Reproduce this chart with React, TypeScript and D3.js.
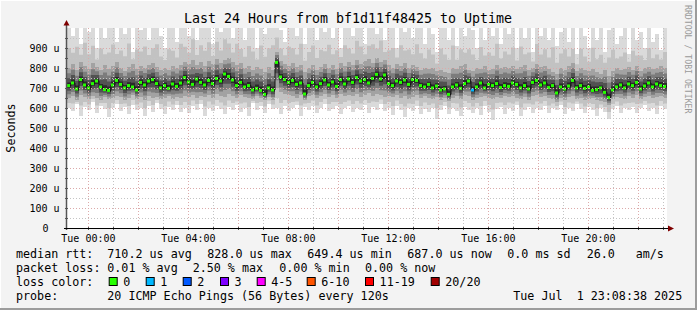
import React from 'react';
import * as d3 from 'd3';

// ---------- data ----------
const endTime = new Date(2025, 6, 1, 23, 8, 38);
const startTime = new Date(endTime.getTime() - 24 * 3600 * 1000);

// median rtt (µs) per time slot
const median = [
  712, 725, 695, 742, 715, 700, 722, 735, 705, 692,
  688, 715, 738, 718, 700, 712, 705, 690, 728, 715,
  735, 742, 722, 700, 712, 698, 720, 708, 725, 752,
  730, 718, 745, 728, 715, 738, 722, 748, 735, 770,
  758, 740, 712, 728, 705, 712, 690, 698, 688, 668,
  700, 690, 828, 755, 742, 728, 738, 718, 725, 670,
  712, 728, 705, 722, 740, 715, 730, 708, 742, 720,
  745, 728, 752, 735, 742, 725, 748, 768, 745, 765,
  722, 712, 735, 728, 740, 718, 742, 738, 712, 705,
  718, 700, 710, 690, 695, 668, 705, 715, 698, 722,
  735, 690, 705, 725, 700, 718, 712, 722, 702, 712,
  708, 725, 718, 700, 712, 695, 728, 738, 715, 725,
  702, 712, 675, 705, 695, 710, 738, 700, 712, 698,
  705, 688, 692, 700, 678, 652, 690, 705, 715, 700,
  720, 712, 728, 695, 710, 725, 705, 720, 712, 708,
];

// lost pings (of 20) per time slot
const lostPings = [
  0, 0, 0, 0, 0, 0, 0, 0, 0, 0,
  0, 0, 0, 0, 0, 0, 0, 0, 0, 0,
  0, 0, 0, 0, 0, 0, 0, 0, 0, 0,
  0, 0, 0, 0, 0, 0, 0, 0, 0, 0,
  0, 0, 0, 0, 0, 0, 0, 0, 0, 0,
  0, 0, 0, 0, 0, 0, 0, 0, 0, 0,
  0, 0, 0, 0, 0, 0, 0, 0, 0, 0,
  0, 0, 0, 0, 0, 0, 0, 0, 0, 0,
  0, 0, 0, 0, 0, 0, 0, 0, 0, 0,
  0, 0, 0, 0, 0, 0, 0, 0, 0, 0,
  0, 1, 0, 0, 0, 0, 0, 0, 0, 0,
  0, 0, 0, 0, 0, 0, 0, 0, 0, 0,
  0, 0, 0, 0, 0, 0, 0, 0, 0, 0,
  0, 0, 0, 0, 0, 0, 0, 0, 0, 0,
  0, 0, 0, 0, 0, 0, 0, 0, 0, 0,
];

// smoke: min ping, lower quartile, upper quartile, max ping (µs)
const pingMin = [
  600, 585, 620, 560, 605, 590, 630, 575, 610, 595,
  555, 600, 620, 585, 605, 570, 615, 590, 600, 560,
  610, 580, 625, 595, 570, 605, 590, 615, 580, 600,
  575, 610, 590, 620, 560, 600, 585, 610, 595, 570,
  605, 590, 615, 580, 600, 560, 625, 590, 610, 575,
  620, 595, 600, 570, 610, 585, 600, 615, 560, 605,
  590, 610, 575, 600, 620, 585, 595, 610, 570, 600,
  610, 580, 600, 590, 615, 575, 605, 590, 620, 585,
  600, 565, 610, 590, 555, 600, 585, 610, 570, 595,
  580, 600, 545, 590, 610, 570, 600, 585, 560, 605,
  590, 575, 600, 565, 610, 580, 540, 595, 605, 570,
  600, 585, 615, 560, 590, 605, 575, 600, 590, 610,
  575, 600, 590, 615, 570, 600, 585, 620, 595, 575,
  605, 590, 560, 600, 580, 545, 595, 610, 575, 600,
  590, 605, 575, 600, 615, 585, 600, 570, 610, 595,
];
const pingQ1 = [
  650, 660, 640, 665, 655, 645, 660, 650, 640, 655,
  645, 650, 660, 655, 640, 650, 665, 645, 655, 640,
  660, 650, 655, 645, 650, 660, 645, 655, 650, 660,
  655, 665, 650, 660, 655, 665, 650, 670, 660, 655,
  670, 660, 650, 665, 655, 650, 645, 660, 650, 640,
  655, 640, 700, 680, 670, 665, 660, 650, 665, 640,
  660, 665, 650, 660, 670, 655, 665, 650, 670, 660,
  665, 660, 670, 655, 665, 675, 660, 670, 665, 655,
  660, 655, 665, 650, 660, 645, 655, 665, 650, 660,
  650, 645, 655, 640, 650, 635, 650, 660, 645, 665,
  660, 640, 650, 655, 660, 650, 645, 655, 650, 660,
  655, 660, 650, 645, 655, 640, 660, 665, 655, 660,
  650, 645, 630, 650, 640, 655, 660, 645, 650, 640,
  645, 650, 640, 635, 630, 615, 645, 655, 650, 645,
  660, 650, 665, 645, 655, 660, 650, 655, 660, 650,
];
const pingQ3 = [
  800, 820, 790, 830, 810, 795, 825, 805, 790, 815,
  795, 810, 830, 800, 785, 805, 820, 795, 810, 800,
  815, 825, 805, 790, 800, 790, 810, 800, 815, 830,
  820, 840, 815, 830, 810, 835, 820, 845, 825, 840,
  850, 830, 815, 825, 800, 810, 790, 805, 795, 780,
  805, 790, 880, 835, 820, 810, 825, 805, 815, 780,
  800, 815, 790, 805, 820, 800, 815, 795, 825, 810,
  830, 815, 840, 820, 835, 845, 825, 850, 830, 840,
  815, 800, 820, 810, 825, 800, 815, 805, 790, 800,
  795, 800, 785, 790, 780, 775, 800, 795, 810, 820,
  790, 785, 800, 795, 810, 790, 795, 815, 800, 805,
  800, 810, 795, 805, 815, 790, 800, 820, 805, 810,
  795, 780, 770, 800, 790, 810, 825, 785, 800, 790,
  785, 795, 780, 770, 790, 760, 785, 800, 790, 795,
  805, 790, 810, 785, 800, 805, 795, 800, 810, 800,
];
const pingMax = [
  1050, 960, 1080, 920, 1100, 980, 1040, 900, 1060, 950,
  1000, 1080, 930, 1020, 970, 1100, 880, 1040, 990, 1070,
  940, 1010, 1090, 960, 900, 1050, 1000, 930, 1080, 1020,
  960, 1100, 940, 1040, 1000, 1070, 920, 1060, 980, 1100,
  1030, 950, 1080, 1000, 940, 1060, 1020, 900, 1090, 970,
  1040, 1100, 1060, 990, 930, 1050, 1010, 960, 1080, 920,
  1000, 1060, 940, 1020, 980, 1090, 950, 1030, 900, 1070,
  1000, 960, 1080, 1040, 920, 1010, 1060, 970, 1100, 940,
  1000, 1050, 900, 1070, 980, 1030, 950, 1090, 1000, 920,
  1040, 970, 880, 1060, 1000, 940, 1080, 910, 1020, 960,
  1050, 990, 900, 1070, 940, 1010, 960, 1080, 920, 1000,
  970, 1040, 900, 1060, 950, 1010, 880, 1070, 960, 1020,
  940, 1090, 910, 980, 1050, 930, 1000, 870, 1040, 960,
  900, 1060, 940, 1010, 880, 990, 1050, 920, 960, 1000,
  870, 1030, 940, 980, 900, 1040, 930, 970, 890, 1000,
];

const yTickValues = [0, 100, 200, 300, 400, 500, 600, 700, 800, 900];

const lossLabels = ['0', '1', '2', '3', '4-5', '6-10', '11-19', '20/20'];
const lossMaxPings = [0, 1, 2, 3, 5, 10, 19, 20];
const lossColors = ['#26ff00', '#00b8ff', '#0059ff', '#7e00ff', '#ff00ff', '#ff5500', '#ff0000', '#a10000'];

const legendRtt = ['710.2 us avg', '828.0 us max', '649.4 us min', '687.0 us now', '0.0 ms sd', '26.0', 'am/s'];
const legendLoss = ['0.01 % avg', '2.50 % max', '0.00 % min', '0.00 % now'];
const probeText = '20 ICMP Echo Pings (56 Bytes) every 120s';
const stampText = 'Tue Jul  1 23:08:38 2025';
const titleText = 'Last 24 Hours from bf1d11f48425 to Uptime';

// ---------- layout ----------
const W = 697;
const H = 310;
const X0 = 67, X1 = 667, Y0 = 228, Y1 = 28;
const MONO = '"DejaVu Sans Mono", monospace';
const rttX = [107.3, 207.3, 307.3, 407.3, 507.3, 586.7, 635.7];
const lossX = [107.3, 192.7, 279.3, 365];
const swatchX = [108.7, 145.7, 182.7, 220, 256.7, 306.7, 365, 430.7];

function lossColor(n: number) {
  for (let k = 0; k < lossMaxPings.length; k++) if (n <= lossMaxPings[k]) return lossColors[k];
  return lossColors[lossColors.length - 1];
}

export default function App() {
  const x = d3.scaleTime().domain([startTime, endTime]).range([X0, X1]);
  const y = d3.scaleLinear().domain([0, 1000]).range([Y0, Y1]);
  const N = median.length;
  const stepMs = (endTime.getTime() - startTime.getTime()) / N;
  const colX = (i: number) => x(new Date(startTime.getTime() + i * stepMs));
  const idx = d3.range(N + 1);
  const at = (arr: number[], i: number) => arr[Math.min(i, N - 1)];
  const lerp = (a: number, b: number, t: number) => a + (b - a) * t;

  const layers: { lo: (i: number) => number; hi: (i: number) => number; color: string }[] = [
    { lo: (i) => at(pingMin, i), hi: (i) => at(pingMax, i), color: '#dadada' },
    { lo: (i) => lerp(at(pingMin, i), at(pingQ1, i), 0.5), hi: (i) => lerp(at(pingMax, i), at(pingQ3, i), 0.6), color: '#c2c2c2' },
    { lo: (i) => at(pingQ1, i), hi: (i) => at(pingQ3, i), color: '#a2a2a2' },
    { lo: (i) => lerp(at(pingQ1, i), at(median, i), 0.3), hi: (i) => lerp(at(pingQ3, i), at(median, i), 0.3), color: '#7c7c7c' },
    { lo: (i) => lerp(at(pingQ1, i), at(median, i), 0.58), hi: (i) => lerp(at(pingQ3, i), at(median, i), 0.58), color: '#525252' },
    { lo: (i) => lerp(at(pingQ1, i), at(median, i), 0.82), hi: (i) => lerp(at(pingQ3, i), at(median, i), 0.82), color: '#2a2a2a' },
  ];

  const areaFor = (lo: (i: number) => number, hi: (i: number) => number) =>
    d3.area<number>()
      .x((i) => colX(i))
      .y0((i) => y(lo(i)))
      .y1((i) => y(hi(i)))
      .curve(d3.curveStepAfter)(idx) || '';

  const medLine = d3.line<number>()
    .x((i) => colX(i))
    .y((i) => y(at(median, i)))
    .curve(d3.curveStepAfter)(idx) || '';

  const minorX = d3.timeHour.every(1)!.range(startTime, endTime);
  const majorX = d3.timeHour.every(2)!.range(startTime, endTime);
  const labelX = d3.timeHour.every(4)!.range(startTime, endTime);
  const fmt = d3.timeFormat('%a %H:%M');
  const minorY = d3.range(50, 1000, 100);

  const gridGrey = '#c4c4c4';
  const gridRed = '#dcaaaa';

  return (
    <svg width={W} height={H} style={{ position: 'absolute', left: 0, top: 0 }} fontFamily={MONO}>
      <defs>
        <clipPath id="plotclip">
          <rect x={X0} y={Y1} width={X1 - X0} height={Y0 - Y1} />
        </clipPath>
      </defs>
      <rect x={0} y={0} width={W} height={H} fill="#f3f3f3" />
      <rect x={0} y={0} width={W} height={1} fill="#ffffff" />
      <rect x={0} y={0} width={1} height={H} fill="#ffffff" />
      <rect x={W - 2} y={0} width={2} height={H} fill="#9c9c9c" />
      <rect x={0} y={H - 2} width={W} height={2} fill="#9c9c9c" />

      <rect x={X0} y={Y1} width={X1 - X0} height={Y0 - Y1} fill="#ffffff" />

      <g clipPath="url(#plotclip)">
        {layers.map((l, k) => (
          <path key={k} d={areaFor(l.lo, l.hi)} fill={l.color} />
        ))}
        <path d={medLine} fill="none" stroke="#141414" strokeWidth={1} />
        {median.map((m, i) => (
          <rect key={i} x={colX(i)} y={y(m) - 1.5} width={3} height={3} fill={lossColor(lostPings[i])} />
        ))}
      </g>

      {/* grid */}
      <g fill="none" strokeWidth={1} strokeDasharray="1,2">
        {minorY.map((v) => (
          <line key={'my' + v} x1={X0} x2={X1} y1={Math.round(y(v)) + 0.5} y2={Math.round(y(v)) + 0.5} stroke={gridGrey} />
        ))}
        {yTickValues.filter((v) => v > 0).map((v) => (
          <line key={'My' + v} x1={X0} x2={X1} y1={Math.round(y(v)) + 0.5} y2={Math.round(y(v)) + 0.5} stroke={gridRed} />
        ))}
        {minorX.filter((t) => t.getHours() % 2 !== 0).map((t) => (
          <line key={'mx' + t.getTime()} x1={Math.round(x(t)) + 0.5} x2={Math.round(x(t)) + 0.5} y1={Y1} y2={Y0} stroke={gridGrey} />
        ))}
        {majorX.map((t) => (
          <line key={'Mx' + t.getTime()} x1={Math.round(x(t)) + 0.5} x2={Math.round(x(t)) + 0.5} y1={Y1} y2={Y0} stroke={gridRed} />
        ))}
      </g>

      {/* ticks on axes */}
      <g stroke="#555" strokeWidth={1}>
        {d3.range(50, 1000, 50).map((v) => (
          <line key={'ty' + v} x1={X0 - 2} x2={X0 + 1} y1={Math.round(y(v)) + 0.5} y2={Math.round(y(v)) + 0.5} />
        ))}
        {minorX.map((t) => (
          <line key={'tx' + t.getTime()} x1={Math.round(x(t)) + 0.5} x2={Math.round(x(t)) + 0.5} y1={Y0 - 1} y2={Y0 + 2} />
        ))}
      </g>

      {/* axes */}
      <line x1={X0 - 0.5} x2={X0 - 0.5} y1={Y0 + 2} y2={Y1 - 3} stroke="#555" strokeWidth={1.5} />
      <line x1={X0 - 3} x2={X1 + 1} y1={Y0 + 0.5} y2={Y0 + 0.5} stroke="#000" strokeWidth={1} />
      <path d={`M${X0 - 3.5},${Y1 - 2.5} L${X0 + 2.5},${Y1 - 2.5} L${X0 - 0.5},${Y1 - 8} Z`} fill="#7f0000" />
      <path d={`M${X1 + 1},${Y0 - 2.5} L${X1 + 1},${Y0 + 3.5} L${X1 + 7},${Y0 + 0.5} Z`} fill="#7f0000" />

      {/* y labels */}
      <g fontSize={10} fill="#000">
        {yTickValues.map((v) =>
          v === 0 ? (
            <text key={v} x={48.5} y={y(v) + 3.5} textAnchor="end">0</text>
          ) : (
            <text key={v} x={59.5} y={y(v) + 3.5} textAnchor="end">{`${v} u`}</text>
          )
        )}
      </g>
      {/* x labels */}
      <g fontSize={10} fill="#000">
        {labelX.filter((t) => t.getHours() % 4 === 0).map((t) => (
          <text key={t.getTime()} x={x(t)} y={241.5} textAnchor="middle">{fmt(t)}</text>
        ))}
      </g>

      {/* title */}
      <text x={348} y={23} fontSize={13.3} textAnchor="middle" fill="#000">{titleText}</text>
      <text transform="translate(15,128) rotate(-90)" fontSize={11.7} textAnchor="middle" fill="#000">Seconds</text>
      <text transform="translate(685,5) rotate(90)" fontSize={8.2} fill="#9a9a9a">RRDTOOL / TOBI OETIKER</text>

      {/* legend */}
      <g fontSize={11.7} fill="#000" style={{ whiteSpace: 'pre' }}>
        <text x={16} y={258}>median rtt:</text>
        {legendRtt.map((s, i) => (
          <text key={'r' + i} x={rttX[i]} y={258}>{s}</text>
        ))}
        <text x={16} y={272}>packet loss:</text>
        {legendLoss.map((s, i) => (
          <text key={'l' + i} x={lossX[i]} y={272}>{s}</text>
        ))}
        <text x={16} y={286}>loss color:</text>
        {lossLabels.map((s, i) => (
          <g key={'c' + i}>
            <rect x={swatchX[i] + 0.5} y={277.5} width={8} height={8} fill={lossColors[i]} stroke="#000" strokeWidth={1} />
            <text x={swatchX[i] + 14.6} y={286}>{s}</text>
          </g>
        ))}
        <text x={16} y={300}>probe:</text>
        <text x={107.3} y={300}>{probeText}</text>
        <text x={513.3} y={300} xmlSpace="preserve">{stampText}</text>
      </g>
    </svg>
  );
}
